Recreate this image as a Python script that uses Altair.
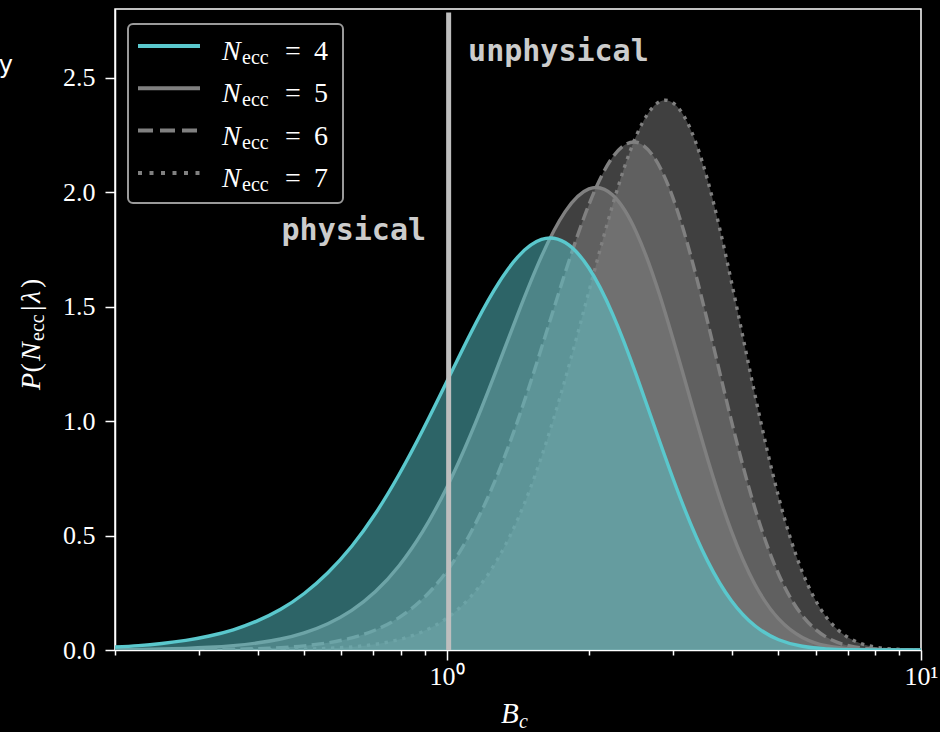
import altair as alt
import pandas as pd

# ---------------- data ----------------
B_c = [0.2, 0.224, 0.251, 0.282, 0.316, 0.355, 0.398, 0.447, 0.501, 0.562,
       0.631, 0.708, 0.794, 0.891, 1.0, 1.122, 1.259, 1.413, 1.585, 1.778,
       1.995, 2.239, 2.512, 2.818, 3.162, 3.548, 3.981, 4.467, 5.012, 5.623,
       6.310, 7.079, 7.943, 8.913, 10.0]

P_N4 = [0.0129, 0.0192, 0.0285, 0.0420, 0.0612, 0.0884, 0.1262, 0.1778, 0.2469, 0.3375,
        0.4531, 0.5960, 0.7665, 0.9608, 1.1704, 1.3807, 1.5711, 1.7170, 1.7932, 1.7798,
        1.6685, 1.4671, 1.2005, 0.9062, 0.6249, 0.3893, 0.2164, 0.1059, 0.0449, 0.0162,
        0.0049, 0.0012, 0.0002, 0.0000, 0.0000]
P_N5 = [0.0016, 0.0026, 0.0043, 0.0072, 0.0117, 0.0190, 0.0304, 0.0480, 0.0749, 0.1148,
        0.1730, 0.2553, 0.3683, 0.5181, 0.7081, 0.9372, 1.1966, 1.4673, 1.7194, 1.9148,
        2.0141, 1.9871, 1.8244, 1.5452, 1.1955, 0.8357, 0.5212, 0.2861, 0.1360, 0.0551,
        0.0186, 0.0051, 0.0011, 0.0002, 0.0000]
P_N6 = [0.0002, 0.0003, 0.0005, 0.0010, 0.0018, 0.0033, 0.0059, 0.0104, 0.0182, 0.0313,
        0.0528, 0.0875, 0.1416, 0.2235, 0.3427, 0.5090, 0.7291, 1.0031, 1.3189, 1.6480,
        1.9450, 2.1531, 2.2180, 2.1078, 1.8298, 1.4351, 1.0043, 0.6185, 0.3300, 0.1499,
        0.0568, 0.0176, 0.0043, 0.0008, 0.0001]
P_N7 = [0.0000, 0.0000, 0.0001, 0.0001, 0.0002, 0.0005, 0.0009, 0.0019, 0.0037, 0.0071,
        0.0134, 0.0250, 0.0454, 0.0803, 0.1382, 0.2303, 0.3702, 0.5715, 0.8431, 1.1820,
        1.5653, 1.9441, 2.2471, 2.3961, 2.3338, 2.0537, 1.6126, 1.1142, 0.6670, 0.3400,
        0.1446, 0.0503, 0.0139, 0.0030, 0.0005]

N_ECC = ["4", "5", "6", "7"]
X_TICKS = [0.2, 0.3, 0.4, 0.5, 0.6, 0.7, 0.8, 0.9, 1, 2, 3, 4, 5, 6, 7, 8, 9, 10]
Y_TICKS = [0.0, 0.5, 1.0, 1.5, 2.0, 2.5]
BOUNDARY_B = [1.01]
BOUNDARY_TOP = [2.785]
REGION_TEXT = ["physical", "unphysical"]
REGION_B = [0.905, 1.11]
REGION_P = [1.793, 2.574]

# ---------------- styling ----------------
CYAN = "#5ac8cd"
GRAY = "#808080"
SERIF = "Liberation Serif"
W, H = 806, 641
PAD = {"left": 115, "top": 9, "right": 19, "bottom": 82}

x_scale = alt.Scale(type="log", domain=[0.2, 10], nice=False)
y_scale = alt.Scale(domain=[0, 2.8], nice=False, zero=False)

x_axis = alt.Axis(
    values=X_TICKS, title=None,
    labelExpr="datum.value == 1 ? '10\u2070' : (datum.value == 10 ? '10\u00b9' : '')",
    tickSize={"condition": {"test": "datum.value == 1 || datum.value == 10", "value": 10}, "value": 5},
    labelPadding=3, labelOverlap=False, labelFlush=False,
)
y_axis = alt.Axis(values=Y_TICKS, format=".1f", title=None, tickSize=10,
                  labelPadding=10, labelOverlap=False)


def xenc():
    return alt.X("B:Q", scale=x_scale, axis=x_axis)


def yenc():
    return alt.Y("P:Q", scale=y_scale, axis=y_axis, stack=None)


dummy = pd.DataFrame({"k": [0]})


def ptext(txt, x, y, size, style="normal", align="left", angle=0,
          font=SERIF, color="white", weight="normal"):
    return alt.Chart(dummy).mark_text(
        text=txt, fontSize=size, font=font, fontStyle=style, fontWeight=weight,
        align=align, baseline="alphabetic", color=color, angle=angle,
    ).encode(x=alt.value(x), y=alt.value(y))


layers = []

series = {"4": P_N4, "5": P_N5, "6": P_N6, "7": P_N7}
styles = {
    "7": (GRAY, [3.4, 5.6]),
    "6": (GRAY, [12.5, 5.4]),
    "5": (GRAY, None),
    "4": (CYAN, None),
}
for n in ["7", "6", "5", "4"]:
    df = pd.DataFrame({"B": B_c, "P": series[n]})
    color, dash = styles[n]
    area = alt.Chart(df).mark_area(color=color, opacity=0.5, interpolate="natural",
                                   clip=True).encode(x=xenc(), y=yenc())
    lkw = dict(color=color, strokeWidth=3.4, interpolate="natural", clip=True)
    if dash is not None:
        lkw["strokeDash"] = dash
    line = alt.Chart(df).mark_line(**lkw).encode(x=xenc(), y=yenc())
    layers += [area, line]

# boundary line
rule_df = pd.DataFrame({"B": BOUNDARY_B, "P": [0.0], "P2": BOUNDARY_TOP})
layers.append(alt.Chart(rule_df).mark_rule(color="#bebebe", strokeWidth=5).encode(
    x=xenc(), y=yenc(), y2="P2:Q"))

# region labels
txt_df = pd.DataFrame({"B": REGION_B, "P": REGION_P, "t": REGION_TEXT})
layers.append(alt.Chart(txt_df.iloc[[0]]).mark_text(
    font="DejaVu Sans Mono", fontWeight="bold", fontSize=30, color="#cccccc",
    align="right", baseline="alphabetic").encode(x=xenc(), y=yenc(), text="t:N"))
layers.append(alt.Chart(txt_df.iloc[[1]]).mark_text(
    font="DejaVu Sans Mono", fontWeight="bold", fontSize=30, color="#cccccc",
    align="left", baseline="alphabetic").encode(x=xenc(), y=yenc(), text="t:N"))

# legend box
layers.append(alt.Chart(dummy).mark_rect(
    fill="black", stroke="#9a9a9a", strokeWidth=2, cornerRadius=5).encode(
    x=alt.value(13), x2=alt.value(228), y=alt.value(15), y2=alt.value(194)))

leg_styles = [(CYAN, None), (GRAY, None), (GRAY, [15, 7]), (GRAY, [4, 7.5])]
for i, n in enumerate(N_ECC):
    cy = 37 + 42.3 * i
    color, dash = leg_styles[i]
    kw = dict(color=color, strokeWidth=4)
    if dash is not None:
        kw["strokeDash"] = dash
    layers.append(alt.Chart(dummy).mark_rule(**kw).encode(
        x=alt.value(23), x2=alt.value(85), y=alt.value(cy)))
    layers.append(ptext("N", 107, cy + 14, 28, style="italic"))
    layers.append(ptext("ecc", 127, cy + 18, 20))
    layers.append(ptext("=", 178, cy + 14, 28, align="center"))
    layers.append(ptext(n, 206, cy + 14, 28, align="center"))

# y-axis title  P(N_ecc | lambda), rotated
ytitle = [("P", 381, "italic", 28, -75), ("(", 363.5, "normal", 28, -75),
          ("N", 352.0, "italic", 28, -75), ("ecc", 332.0, "normal", 20, -71),
          ("|", 302.0, "normal", 28, -75), ("\u03bb", 294.0, "italic", 28, -75),
          (")", 279.0, "normal", 28, -75)]
for t, yy, st, sz, xx in ytitle:
    layers.append(ptext(t, xx, yy, sz, style=st, angle=270))

# x-axis title  B_c
layers.append(ptext("B", 386, 714, 29, style="italic"))
layers.append(ptext("c", 404, 719, 20, style="italic"))

# clipped fragment at the top-left edge
layers.append(ptext("y", -102, 64, 24, font="DejaVu Sans", align="right"))

chart = alt.layer(*layers).properties(
    width=W, height=H, padding=PAD, autosize="none", background="black",
).configure_view(
    stroke="white", strokeWidth=1.5,
).configure_axis(
    grid=False, domainColor="white", domainWidth=1.5, tickColor="white", tickWidth=1.5,
    labelColor="white", labelFont=SERIF, labelFontSize=26,
)

chart.save("out.html", embed_options={"renderer": "svg", "actions": False})
